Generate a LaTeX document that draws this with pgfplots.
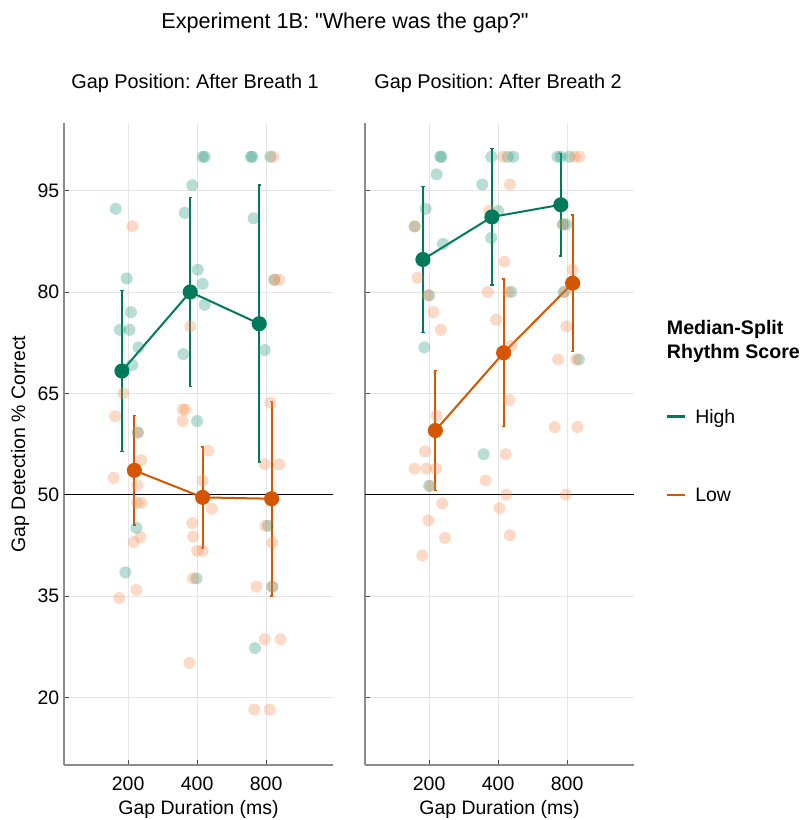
\documentclass[border=0pt]{standalone}
\usepackage{pgfplots}
\pgfplotsset{compat=1.18}
\usepackage{fontspec}
\setmainfont{Liberation Sans}[Ligatures=TeXOff]
\definecolor{hi}{RGB}{0,122,90}
\definecolor{lo}{RGB}{213,85,0}
\definecolor{hil}{RGB}{30,150,120}
\definecolor{lol}{RGB}{245,140,80}
\pgfplotsset{
  panel/.style={
    scale only axis, width=201.75pt, height=481.5pt,
    xmin=0.07, xmax=3.97, ymin=10, ymax=105,
    axis lines*=left,
    axis line style={-, black!45, line width=0.9pt},
    xtick={1,2,3}, xticklabels={200,400,800},
    ytick={20,35,50,65,80,95},
    tick align=inside, major tick length=4pt,
    tick style={black!70, line width=0.6pt},
    grid=major, major grid style={black!10, line width=0.5pt},
    ticklabel style={font=\fontsize{14.6}{17}\selectfont},
    /pgf/number format/assume math mode=true,
    xticklabel style={yshift=-5.2pt},
  },
  pts/.style={only marks, mark=*, mark size=4.5pt, draw=none, fill=#1, fill opacity=0.32,
    mark options={draw=none, draw opacity=0, fill=#1, fill opacity=0.32}},
  mn/.style={color=#1, line width=1.5pt, mark=*, mark size=4.9pt, mark options={draw=none, fill=#1},
    error bars/.cd, y dir=both, y explicit, error bar style={line width=1.5pt, #1}, error mark options={rotate=90, mark size=1.2pt, line width=1.2pt, #1}},
}
\begin{document}
\frenchspacing
\begin{tikzpicture}
\path[use as bounding box] (-48pt,-41.25pt) rectangle (552.75pt,573.75pt);
% Left panel
\begin{axis}[panel, at={(0pt,0pt)}, anchor=south west]
\addplot[pts=hil] coordinates {
(2.11,100) (2.08,100) (2.78,100) (2.80,100) (3.06,100)
(1.93,95.8) (0.82,92.3) (1.82,91.7) (2.82,90.9)
(0.98,82.0) (2.01,83.3) (2.08,81.2) (2.11,78.1) (3.12,81.8)
(1.04,77.0) (0.88,74.4) (1.02,74.4) (1.15,71.8) (1.06,69.2) (1.80,70.8) (2.98,71.4)
(2.00,60.9) (1.14,59.2)
(1.12,45.1) (0.96,38.5) (1.99,37.6) (3.03,45.4) (3.09,36.4) (2.84,27.3)
};
\addplot[pts=lol] coordinates {
(1.06,89.7) (0.93,65.0) (0.81,61.6) (1.14,59.2) (1.19,55.1) (0.79,52.5) (1.13,51.4)
(1.13,48.8) (1.19,48.8) (1.18,43.7) (1.08,43.0) (1.12,35.9) (0.87,34.7)
(1.90,74.9) (1.79,62.6) (1.83,62.6) (1.79,60.9) (2.16,56.5) (2.08,52.1) (2.21,47.9)
(1.93,45.8) (1.94,43.8) (2.00,41.7) (2.08,41.7) (1.94,37.6) (1.89,25.1)
(3.10,100) (3.12,81.8) (3.19,81.8) (3.06,63.6) (2.98,54.5) (3.19,54.5) (2.99,45.4)
(3.09,42.9) (2.86,36.4) (3.09,36.4) (2.98,28.6) (3.21,28.6) (2.83,18.2) (3.05,18.2)
};
\addplot[black, line width=0.8pt] coordinates {(0.07,50) (3.97,50)};
\addplot[mn=hi] coordinates {
(0.91,68.3) +- (0,11.9)
(1.90,80.0) +- (0,14.0)
(2.90,75.3) +- (0,20.5)
};
\addplot[mn=lo] coordinates {
(1.09,53.6) +- (0,8.1)
(2.08,49.6) +- (0,7.5)
(3.08,49.4) +- (0,14.4)
};
\end{axis}
% Right panel
\begin{axis}[panel, at={(225.75pt,0pt)}, anchor=south west, yticklabels={}]
\addplot[pts=hil] coordinates {
(1.16,100) (1.18,100) (1.11,97.4) (0.95,92.3) (0.79,89.7) (1.20,87.1) (1.00,79.5) (0.93,71.8) (1.00,51.3)
(1.90,100) (2.14,100) (2.22,100) (1.77,95.9) (2.00,92.0) (1.90,88.0) (2.19,80.0) (1.79,56.0)
(2.86,100) (2.91,100) (3.03,100) (2.94,90.0) (2.99,90.0) (2.95,80.0) (3.17,70.0)
};
\addplot[pts=lol] coordinates {
(0.79,89.7) (0.83,82.1) (0.98,79.5) (1.06,77.0) (1.17,74.4) (1.11,61.7) (0.94,56.4)
(0.79,53.85) (0.96,53.85) (1.10,53.85) (1.02,51.3) (1.19,48.7) (0.99,46.2) (1.23,43.6) (0.90,41.0)
(2.07,100) (2.17,95.9) (1.87,92.0) (2.09,84.5) (1.85,80.0) (2.15,80.0) (1.97,75.9)
(2.19,72.0) (2.16,64.0) (2.11,56.0) (1.82,52.1) (2.12,50.0) (2.02,48.0) (2.17,44.0)
(3.11,100) (3.18,100) (2.94,90.0) (3.08,83.3) (2.97,80.0) (2.99,74.9) (2.87,70.0)
(3.13,70.0) (2.82,60.0) (3.15,60.0) (2.98,50.0)
};
\addplot[black, line width=0.8pt] coordinates {(0.07,50) (3.97,50)};
\addplot[mn=hi] coordinates {
(0.91,84.8) +- (0,10.8)
(1.91,91.1) +- (0,10.1)
(2.91,92.9) +- (0,7.6)
};
\addplot[mn=lo] coordinates {
(1.09,59.5) +- (0,8.9)
(2.08,71.0) +- (0,10.9)
(3.08,81.3) +- (0,10.1)
};
\end{axis}
% Titles and labels
\node[anchor=base, inner sep=0pt, font=\fontsize{16.2}{19}\selectfont] at (210.75pt,552.4pt) {Experiment 1B: "Where was the gap?"};
\node[anchor=base, inner sep=0pt, font=\fontsize{14.9}{18}\selectfont] at (98.25pt,507.5pt) {Gap Position: After Breath 1};
\node[anchor=base, inner sep=0pt, font=\fontsize{14.9}{18}\selectfont] at (325.5pt,507.5pt) {Gap Position: After Breath 2};
\node[anchor=base, inner sep=0pt, font=\fontsize{14.6}{17}\selectfont] at (100.9pt,-37.5pt) {Gap Duration (ms)};
\node[anchor=base, inner sep=0pt, font=\fontsize{14.6}{17}\selectfont] at (326.6pt,-37.5pt) {Gap Duration (ms)};
\node[rotate=90, inner sep=0pt, font=\fontsize{14.6}{17}\selectfont] at (-33pt,240.75pt) {Gap Detection \% Correct};
% Legend
\node[anchor=base west, inner sep=0pt, font=\fontsize{14.7}{18}\selectfont\bfseries] at (452pt,322.5pt) {Median-Split};
\node[anchor=base west, inner sep=0pt, font=\fontsize{14.7}{18}\selectfont\bfseries] at (452pt,304.5pt) {Rhythm Score};
\draw[hi, line width=1.9pt] (452pt,261.2pt) -- (465.75pt,261.2pt);
\node[anchor=base west, inner sep=0pt, font=\fontsize{14.6}{17}\selectfont] at (473.25pt,255.75pt) {High};
\draw[lo, line width=1.9pt] (452pt,202.5pt) -- (465.75pt,202.5pt);
\node[anchor=base west, inner sep=0pt, font=\fontsize{14.6}{17}\selectfont] at (473.25pt,197.5pt) {Low};
\end{tikzpicture}
\end{document}
